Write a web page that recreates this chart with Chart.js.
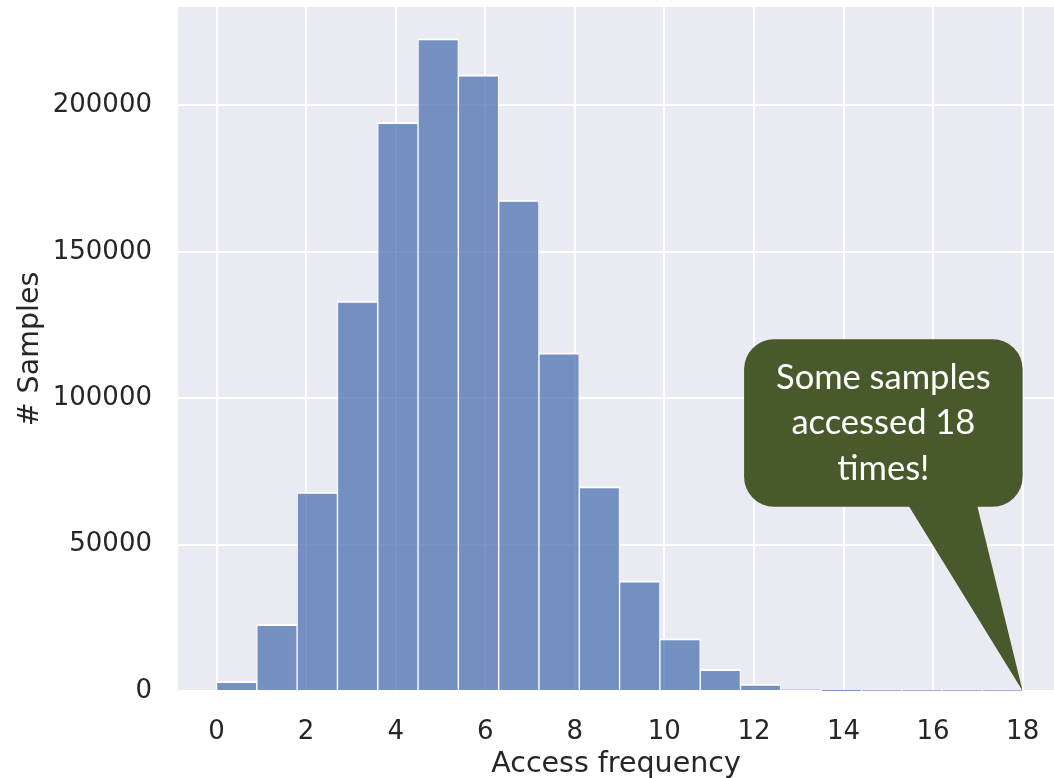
<!DOCTYPE html>
<html>
<head>
<meta charset="utf-8">
<script src="https://cdn.jsdelivr.net/npm/chart.js@4.4.1/dist/chart.umd.min.js"></script>
<style>
  html, body { margin: 0; padding: 0; background: #ffffff; overflow: hidden; }
  #wrap { width: 1054px; height: 778px; position: relative; }
</style>
</head>
<body>
<div id="wrap"><canvas id="histChart"></canvas></div>
<script>
// bin centres (bins of width 0.9 from 0 to 18)
const binCenters = [0.45, 1.35, 2.25, 3.15, 4.05, 4.95, 5.85, 6.75, 7.65, 8.55,
                    9.45, 10.35, 11.25, 12.15, 13.05, 13.95, 14.85, 15.75, 16.65, 17.55];
// number of samples per bin
const sampleCounts = [3300, 22800, 67900, 133200, 194200, 222800, 210400, 167700, 115500, 69800,
                      37600, 17900, 7400, 2400, 450, 100, 30, 10, 3, 1];

const xTicks = [0, 2, 4, 6, 8, 10, 12, 14, 16, 18];
const yTicks = [0, 50000, 100000, 150000, 200000];

// callout text and where it sits (data units)
const calloutLines = ['Some samples', 'accessed 18', 'times!'];
const calloutBox = { x0: 11.78, x1: 18.0, yTop: 120100, yBottom: 62900 };
const calloutTail = { x0: 15.44, x1: 16.98, tipX: 18, tipY: 0 };

const textColor = '#262626';

// grey plot background like seaborn darkgrid
const plotBg = {
    id: 'plotBg',
    beforeDraw(chart) {
        const { ctx, chartArea: a } = chart;
        ctx.save();
        ctx.fillStyle = '#eaeaf2';
        ctx.fillRect(a.left, a.top, a.right - a.left, a.bottom - a.top);
        ctx.restore();
    }
};

// speech bubble pointing at x = 18
const callout = {
    id: 'callout',
    afterDatasetsDraw(chart) {
        const { ctx } = chart;
        const xs = chart.scales.x, ys = chart.scales.y;
        const l = xs.getPixelForValue(calloutBox.x0);
        const r = xs.getPixelForValue(calloutBox.x1);
        const t = ys.getPixelForValue(calloutBox.yTop);
        const b = ys.getPixelForValue(calloutBox.yBottom);
        const rad = 30;

        ctx.save();
        ctx.fillStyle = '#485a2c';
        ctx.beginPath();
        ctx.roundRect(l, t, r - l, b - t, rad);
        ctx.fill();

        ctx.beginPath();
        ctx.moveTo(xs.getPixelForValue(calloutTail.x0), b - 2);
        ctx.lineTo(xs.getPixelForValue(calloutTail.x1), b - 2);
        ctx.lineTo(xs.getPixelForValue(calloutTail.tipX), ys.getPixelForValue(calloutTail.tipY));
        ctx.closePath();
        ctx.fill();

        ctx.fillStyle = '#ffffff';
        ctx.font = '34.5px Lato';
        ctx.textAlign = 'center';
        ctx.textBaseline = 'middle';
        const cx = (l + r) / 2, cy = (t + b) / 2;
        const lh = 45.5;
        calloutLines.forEach((line, i) => {
            ctx.fillText(line, cx, cy + (i - 1) * lh);
        });
        ctx.restore();
    }
};

const ctx = document.getElementById('histChart').getContext('2d');

new Chart(ctx, {
    type: 'bar',
    data: {
        datasets: [{
            label: '# Samples',
            data: binCenters.map((c, i) => ({ x: c, y: sampleCounts[i] })),
            backgroundColor: 'rgba(76, 114, 176, 0.75)',
            borderColor: '#ffffff',
            borderWidth: { top: 2, left: 1, right: 1, bottom: 0 },
            borderSkipped: false,
            barPercentage: 1.0,
            categoryPercentage: 1.0
        }]
    },
    options: {
        responsive: true,
        maintainAspectRatio: false,
        animation: false,
        layout: { padding: { top: 7, left: 0, right: 0, bottom: 0 } },
        plugins: {
            legend: { display: false },
            tooltip: { enabled: false }
        },
        scales: {
            x: {
                type: 'linear',
                offset: false,
                min: -0.86,
                max: 18.7,
                afterBuildTicks: (scale) => { scale.ticks = xTicks.map(v => ({ value: v })); },
                afterFit: (scale) => {
                    scale.height = 87;
                    scale.paddingLeft = 0;
                    scale.paddingRight = 0;
                },
                grid: { color: '#ffffff', lineWidth: 2, drawTicks: false, offset: false },
                border: { display: false },
                ticks: {
                    color: textColor,
                    font: { family: 'DejaVu Sans', size: 26 },
                    padding: 26,
                    maxRotation: 0,
                    autoSkip: false
                },
                title: {
                    display: true,
                    text: 'Access frequency',
                    color: textColor,
                    font: { family: 'DejaVu Sans', size: 28.5 },
                    padding: { top: 0, bottom: -4 }
                }
            },
            y: {
                type: 'linear',
                min: 0,
                max: 233600,
                afterBuildTicks: (scale) => { scale.ticks = yTicks.map(v => ({ value: v })); },
                afterFit: (scale) => {
                    scale.width = 178;
                    scale.paddingTop = 0;
                    scale.paddingBottom = 0;
                },
                grid: { color: '#ffffff', lineWidth: 2, drawTicks: false },
                border: { display: false },
                ticks: {
                    color: textColor,
                    font: { family: 'DejaVu Sans', size: 26 },
                    padding: 26,
                    callback: (v) => String(v)
                },
                title: {
                    display: true,
                    text: '# Samples',
                    color: textColor,
                    font: { family: 'DejaVu Sans', size: 28.5 },
                    padding: { top: 13, bottom: 0 }
                }
            }
        }
    },
    plugins: [plotBg, callout]
});
</script>
</body>
</html>
